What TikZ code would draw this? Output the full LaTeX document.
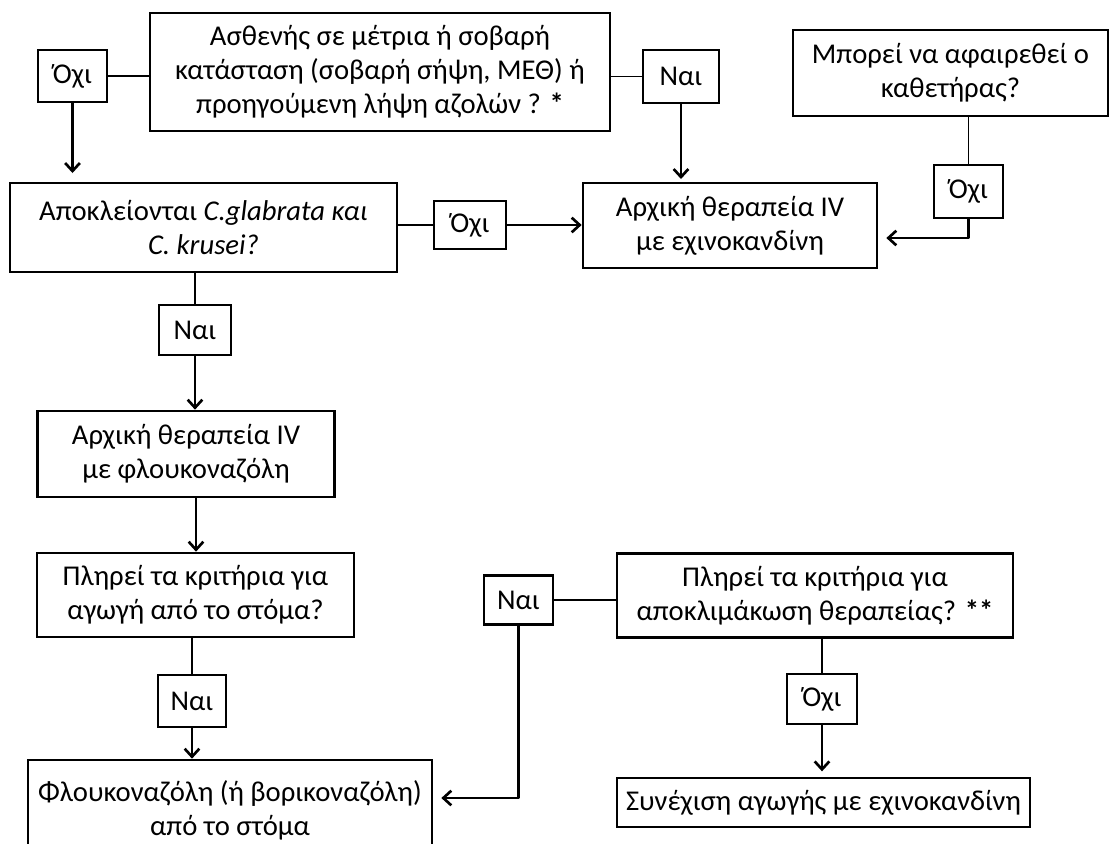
\documentclass[tikz,border=0pt]{standalone}
\usepackage{fontspec}
\setmainfont{Carlito}
\usetikzlibrary{arrows.meta}

\tikzset{
  box/.style={draw, line width=2pt, align=center, inner sep=0pt,
    font=\fontsize{21.5}{25.5}\selectfont},
  answer/.style={box},
  link/.style={line width=0.8pt},
  goto/.style={line width=2pt, line join=round,
    -{Straight Barb[length=6pt,width=11pt,line width=2pt]}}
}

\begin{document}
\begin{tikzpicture}[x=0.75pt,y=0.75pt,yscale=-1,xscale=1]
\clip (0,0) rectangle (1110,843);
\fill[white] (0,0) rectangle (1110,843);

% Question boxes
\node[box, minimum width=345pt, minimum height=88.5pt] (severe) at (380,72)
  {Ασθενής σε μέτρια ή σοβαρή\\κατάσταση (σοβαρή σήψη, ΜΕΘ) ή\\προηγούμενη λήψη αζολών ? \textbf{*}};
\node[box, minimum width=290.25pt, minimum height=66.75pt] (exclude) at (203.5,227.5)
  {Αποκλείονται \textit{C.glabrata και}\\\textit{C. krusei?}};
\node[box, minimum width=220.5pt, minimum height=63.75pt] (echino) at (730,225.5)
  {Αρχική θεραπεία IV\\με εχινοκανδίνη};
\node[box, minimum width=236.25pt, minimum height=64.5pt] (catheter) at (950.5,73)
  {Μπορεί να αφαιρεθεί ο\\καθετήρας?};
\node[box, minimum width=222.75pt, minimum height=64.5pt] (fluiv) at (186,454)
  {Αρχική θεραπεία IV\\με φλουκοναζόλη};
\node[box, minimum width=237.75pt, minimum height=63pt] (oral) at (195.5,595)
  {Πληρεί τα κριτήρια για\\αγωγή από το στόμα?};
\node[box, minimum width=303pt, minimum height=75.75pt] (fluoral) at (230,810.5)
  {Φλουκοναζόλη (ή βορικοναζόλη)\\από το στόμα};
\node[box, minimum width=297pt, minimum height=63pt] (stepdown) at (815,595.5)
  {Πληρεί τα κριτήρια για\\αποκλιμάκωση θεραπείας? \textbf{**}};
\node[box, minimum width=309.75pt, minimum height=36.75pt] (keep) at (823.5,802.5)
  {Συνέχιση αγωγής με εχινοκανδίνη};

% Answer boxes
\node[answer, minimum width=51.75pt, minimum height=39pt] (no1) at (72.5,76) {Όχι};
\node[answer, minimum width=57pt, minimum height=39.75pt] (yes1) at (681,76.5) {Ναι};
\node[answer, minimum width=54pt, minimum height=36pt] (no2) at (470,225) {Όχι};
\node[answer, minimum width=51.75pt, minimum height=39.75pt] (no3) at (968.5,191.5) {Όχι};
\node[answer, minimum width=54pt, minimum height=37.5pt] (yes2) at (195,330) {Ναι};
\node[answer, minimum width=51pt, minimum height=39pt] (yes3) at (192,701) {Ναι};
\node[answer, minimum width=51.75pt, minimum height=36.75pt] (yes4) at (518.5,600) {Ναι};
\node[answer, minimum width=52.5pt, minimum height=37.5pt] (no4) at (822,699) {Όχι};

% Free ends of arrows
\coordinate (no1end) at (72.5,173);
\coordinate (yes1end) at (681,179);
\coordinate (no3bend) at (968.5,238);
\coordinate (yes4bend) at (518.5,798);

% Connectors
\draw[link] (no1.east) -- (no1.east -| severe.west);
\draw[goto] (no1.south) -- (no1end);
\draw[link] (yes1.west) -- (yes1.west -| severe.east);
\draw[goto] (yes1.south) -- (yes1end);
\draw[link] (exclude.east |- no2.west) -- (no2.west);
\draw[goto] (no2.east) -- (no2.east -| echino.west);
\draw[link] (catheter.south -| no3.north) -- (no3.north);
\draw[goto] (no3.south) -- (no3bend) -- ([xshift=6pt]no3bend -| echino.east);
\draw[link] (exclude.south -| yes2.north) -- (yes2.north);
\draw[goto] (yes2.south) -- (yes2.south |- fluiv.north);
\draw[goto] ([xshift=7.5pt]fluiv.south) -- ([xshift=7.5pt]fluiv.south |- oral.north);
\draw[link] (oral.south -| yes3.north) -- (yes3.north);
\draw[goto] (yes3.south) -- (yes3.south |- fluoral.north);
\draw[link] (yes4.east) -- (yes4.east -| stepdown.west);
\draw[goto] (yes4.south) -- (yes4bend) -- ([xshift=6pt]yes4bend -| fluoral.east);
\draw[link] (stepdown.south -| no4.north) -- (no4.north);
\draw[goto] (no4.south) -- ([yshift=-4pt]no4.south |- keep.north);

\end{tikzpicture}
\end{document}
